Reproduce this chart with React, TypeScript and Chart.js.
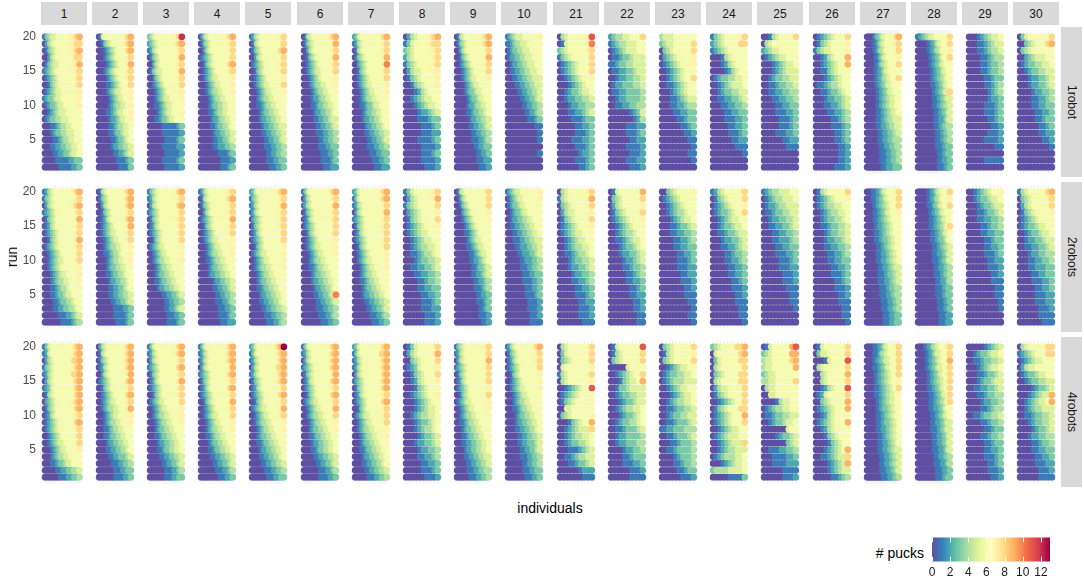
import React, { useEffect, useRef } from "react";
import { Chart, registerables } from "chart.js";
Chart.register(...registerables);

const panelLabels = ["1", "2", "3", "4", "5", "6", "7", "8", "9", "10", "21", "22", "23", "24", "25", "26", "27", "28", "29", "30"];
const conditionLabels = ["1robot", "2robots", "4robots"];
const runTicks = [5, 10, 15, 20];
const puckTicks = [0, 2, 4, 6, 8, 10, 12];
const puckLimits = [0, 13];
const spectral = ["#5E4FA2", "#3288BD", "#66C2A5", "#ABDDA4", "#E6F598", "#FFFFBF", "#FEE08B", "#FDAE61", "#F46D43", "#D53E4F", "#9E0142"];

// Each panel string: 20 runs, listed from run 20 (top) down to run 1 (bottom).
// Each run lists the sorted puck counts of its individuals (0-9, a=10, b=11, c=12, d=13).
const oneRobot: string[] = [
  "13455666667789 02456666667788 01345666667789 00245666666788 01345566666779 12345666666778 01234566666678 00134566666678 01234556666677 12334556666667 01233455666667 00123455566666 01233445556666 00011234455666 00012334455566 00001123445566 00011223344556 00001122334556 00000111112233 00000011111223",
  "01566666666789 00134566666789 00012345666689 00012345666678 00001234566679 00012345666678 00001234566678 00001123456668 00001234556667 00000123455667 00000123445567 00001123455667 00000122345567 00000112344556 00000112334556 00000011233456 00000012233445 00000001122345 00000000111123 00000000011113",
  "3456666666678c 23456666666789 12456666666678 01345666666679 00245666666678 01345566666679 00134566666678 00123456666668 00012345666667 00012345566667 00011234556666 00001234556667 00011233455666 00000011111123 00000011111112 00000001111123 00000011111122 00000001111112 00000011111123 00000001111112",
  "02456666666789 01345666666678 00245666666678 01234566666678 00134566666689 00123456666678 00123455666667 00012345566667 00012344556667 00001234455666 00001233445566 00001123445566 00000122344556 00000112334456 00000012233445 00000011223345 00000011222334 00000000111123 00000000011112 00000000011123",
  "12456666666678 01456666666678 01345666666689 00245666666668 01234566666678 00134566666668 00123456666667 00123455666668 00012345566667 00012344556666 00011234455666 00001233445566 00001223344556 00000122334455 00000112233445 00000011223345 00000011122334 00000001122334 00000001112233 00000000111223",
  "01456666666789 01345666666679 00245666666678 00134566666679 00123456666678 00123455666668 00012345666667 00012344556667 00001234455666 00001223445566 00001123344556 00000122334456 00000112233455 00000011223345 00000011122334 00000001122334 00000001112233 00000000111223 00000000111123 00000000011122",
  "23566666666789 12456666666678 01456666666678 01345666666669 0023456666667a 00134566666678 00123456666668 00123455666667 00012345566667 00012344556666 00011233455666 00001233445566 00001223344566 00000122334456 00000112233445 00000011223345 00000011122334 00000001112233 00000000111223 00000000011122",
  "0245666789 1356666788 3456666678 2456666678 1345666678 0245566677 0134566667 0013456667 0001245666 0012345566 0001234556 0000122345 0000111233 0000011123 0000011122 0000111123 0000011112 0000011123 0000011112 0000001112",
  "01456666666789 01345666666789 00245666666678 00134566666679 00123456666678 00012345666668 00012345566667 00001234556666 00001233455666 00000123345566 00000122344556 00000112334456 00000012233445 00000011223345 00000001122334 00000001112234 00000000112233 00000000011223 00000000011122 00000000001112",
  "12345556666667 11234455566666 01233445556666 01223344555666 00122334455566 00112233445556 00011223344555 00001122334455 00000112233445 00000011223345 00000001122334 00000000112234 00000000011123 00000000000011 00000000000001 00000000000001 00000000000000 00000000000001 00000000000000 00000000000000",
  "045666667b 015666667a 3456666678 1345666668 0123456668 0123456668 0012345667 0001234566 0012334556 0012233445 0001223344 0001122345 0000111233 0000011223 0000011123 0000111223 0000011123 0000001223 0000011123 0000001123",
  "2344556668 1234455566 0123455566 0112334555 1123344555 0112233455 0012233445 0122333445 0112233334 0012233334 0011223344 0000001235 0000000124 0000011122 0000011123 0000001122 0000011112 0000001112 0000011122 0000001112",
  "4555666666 3455666668 0345666668 0234566667 0123456667 0012345666 0012345668 0011234566 0001234566 0001123455 0001122344 0000112233 0000011233 0000001123 0000000112 0000000011 0000000001 0000000011 0000000001 0000000000",
  "1345666678 2345666688 1234566666 0001456666 0001245666 0000124566 0123344556 0012345556 0012334455 0011223345 0001122334 0000112233 0000111223 0000011223 0000011123 0000001122 0000000111 0000000001 0000000000 0000000000",
  "0014566668 0456666666 2345566666 0123455666 0001234556 0001234555 0012334455 0011233445 0011223344 0001122334 0000112233 0000111223 0000011123 0000011123 0000111223 0000001122 0000000111 0000000000 0000000000 0000000000",
  "0123456668 0134566667 1345566667 0012456669 0012345669 0011345666 0001234566 0112344566 0011233456 0001223345 0001122345 0000112234 0000011234 0000011123 0000001123 0000001123 0000000112 0000000112 0000000112 0000001112",
  "00000123345566666789 00000112345566666678 00000112344566666668 00000011234556666667 00000011234455666668 00000011223455666666 00000011223445566668 00000011223345556666 00000001122334555666 00000001122334455566 00000001122334455566 00000001112233445556 00000001112233444555 00000001112223344455 00000000111222333445 00000000111222333444 00000000011122233344 00000000011112223334 00000000011112223334 00000000001112222333",
  "11223344555666666668 00000001122345566668 00000001122344566667 00000000112233456668 00000000112233455666 00000000011223345566 00000000011223344566 00000000011122334556 00000000001122334558 00000000001112233455 00000000001112233445 00000000000111223345 00000000000111222345 00000000000111223344 00000000000011122334 00000000000011122334 00000000000011112233 00000000000001112233 00000000000001112223 00000000000001111223",
  "0001234556 0001123455 0001123445 0000112344 0000112334 0000112334 0000011233 0000011234 0000001234 0000001223 0000011123 0000011123 0000001123 0000000112 0000001112 0000011112 0000000011 0000000000 0000011111 0000000000",
  "0356666668 0034566689 0345666666 0023455566 0123344556 0012334455 0001223345 0001223345 0000122334 0000112234 0000112233 0000011223 0000011233 0000001123 0000001122 0000000112 0000000001 0000000000 0000000000 0000000000",
];

const twoRobots: string[] = [
  "12456666666789 13456666666678 02456666666789 12345666666678 01345666666679 01245666666678 01234566666678 00134566666679 01234566666678 00123456666668 00123455666678 00123456666667 00012345566667 00012344556667 00011234456666 00011233455666 00001123344566 00001122334456 00000011122345 00000001111234",
  "01456666666789 01345666666789 00245666666689 00134566666678 00124566666689 00123456666679 00123455666678 00012345566678 00012344556667 00011234456667 00001234455667 00001233445566 00001123344566 00000122334456 00000112233456 00000112233445 00000011223345 00000001111223 00000001111123 00000000111123",
  "13456666666789 12456666666678 02456666666689 12345666666678 01345666666678 01245666666678 01234566666678 00134566666668 01234556666667 00123455666667 00123445566667 00012344556666 00012334455666 00011233445566 00001223344556 00000011223345 00000001122334 00000001122345 00000000111223 00000000111123",
  "12456666666778 01456666666789 01345666666678 00245666666678 01234566666679 00134566666678 00123456666668 00123455666667 00012345566667 00012344556667 00011234455666 00001233445566 00001223344556 00000012233445 00000011223345 00000001122334 00000001112234 00000000111223 00000000111123 00000000011122",
  "23566666666789 13456666666678 12456666666679 12456666666678 02345666666678 01345666666678 01245666666668 01234566666678 00134566666667 01234556666667 00123455666667 00123445566667 00012344556666 00012334455666 00011233445566 00001223344556 00001122334456 00000112233445 00000011122334 00000001112234",
  "13566666666789 02456666666678 12456666666679 01345666666678 01245666666678 01234566666668 00134566666678 00123456666667 00123455666667 00012345566667 00012344556666 00011234455666 00001233445566 00001223344556 00000122334456 0000011223345a 00000011223345 00000011122334 00000001112234 00000000111223",
  "23566666666789 13566666666789 12456666666678 02456666666679 12345666666678 01345666666678 01245666666678 01234566666668 00134566666678 00123456666667 00123455666667 00012345566667 00012344556666 00011234455666 00001233445566 00001223344556 00000112233445 00000011223345 00000001112234 00000000111223",
  "1356666678 0245666679 1345666668 0234566667 0134566668 0123456667 0123455666 0012345566 0012344556 0011234456 0001233445 0011223345 0001122334 0000112334 0000112233 0000011223 0000011123 0000011122 0000001112 0000001112",
  "01456666666678 00245666666678 00134566666668 00023456666667 00012345666667 00001234566666 00001123456666 00000123455666 00000112345566 00000011234556 00000011223456 00000001123345 00000001122345 00000000112234 00000000111234 00000000011223 00000000011123 00000000001123 00000000001112 00000000000112",
  "12345566666667 01234556666667 01233455666666 00123345566666 00122334455666 00112233445566 00011223344556 00011122334455 00001122233445 00000112223345 00000011222334 00000011122334 00000001112233 00000001111223 00000000111223 00000000111123 00000000011112 00000000011112 00000000001112 00000000001111",
  "0456666678 1456666679 0345666668 0245566667 0134566668 0123456667 0123455666 0012345566 0012344556 0011234456 0001233445 0001223345 0000122334 0000112234 0000011223 0000011123 0000001122 0000001112 0000001112 0000000111",
  "0156666669 0345666668 0245666667 0134566668 0123456667 0012345666 0012344566 0011234556 0001233456 0001223345 0000122345 0000112334 0000011234 0000011223 0000001123 0000001122 0000000112 0000000112 0000000011 0000000011",
  "0034566667 0123456666 0012345666 0012344566 0001234556 0001123345 0001122334 0000112234 0000112233 0000011223 0000011123 0000011122 0000001122 0000001112 0000000112 0000000111 0000000011 0000000001 0000000011 0000000001",
  "1245666678 0134566668 0123456667 0123345668 0012345566 0012334556 0011233455 0001223345 0001122345 0000112334 0000112234 0000011223 0000011223 0000001123 0000001112 0000000112 0000000111 0000000011 0000000011 0000000001",
  "1234455566 0123445556 0122344555 0112334455 0012233445 0011223345 0001122334 0001122234 0000112233 0000111223 0000011123 0000011122 0000001112 0000001112 0000000111 0000000011 0000000011 0000000001 0000000000 0000000000",
  "0145666668 0123456667 0123445566 0012344556 0012334456 0011233445 0001233445 0001223345 0001122334 0000112234 0000112233 0000011223 0000011123 0000001123 0000001112 0000000112 0000000111 0000000011 0000000011 0000000001",
  "00001112234556666678 00001112233455666668 00000112233445566668 00000111223345566667 00000111223344556666 00000011222334455666 00000011122334455666 00000011122333445566 00000001112233445566 00000001112223344556 00000001112223344556 00000000111222334455 00000000111122333445 00000000111122233445 00000000011112233344 00000000011112223344 00000000001111222334 00000000001111222334 00000000000111122233 00000000000111122233",
  "00000001122345566668 00000001122344566667 00000001112334556668 00000000112233455666 00000000111223345566 00000000111223344568 00000000011122334556 00000000011122333456 00000000001112233445 00000000001112223345 00000000001111223345 00000000000111222334 00000000000111122334 00000000000011122234 00000000000011112233 00000000000011112233 00000000000001111223 00000000000001111223 00000000000000111122 00000000000000111122",
  "0012345667 0012334556 0001233455 0001123345 0001122334 0000112334 0000112233 0000011233 0000011223 0000011123 0000001122 0000001112 0000000112 0000000111 0000000011 0000000011 0000000001 0000000001 0000000000 0000000000",
  "1456666689 0345666678 0245666668 0134566667 0123456666 0123345566 0012334556 0012233455 0011223345 0001223344 0001122334 0001122233 0000112233 0000111223 0000011223 0000011122 0000011122 0000001112 0000001111 0000000111",
];

const fourRobots: string[] = [
  "13566666666789 12566666666789 02456666666889 13456666666789 12456666666889 02456666666789 12356666666789 01456666666689 02345666666789 01345666666689 01245666666678 01234566666689 01234566666678 00123456666678 00123455666668 00012345566667 00012344556666 00011233455666 00000112233445 00000011122334",
  "02456666666789 01456666666789 01345666666789 01245666666689 00245666666679 01234566666689 00134566666678 00123456666689 00123455666678 00123445566679 00012345566667 00012344556667 00011234455666 00011233445566 00001223344556 00001122334456 00000112233345 00000011122334 00000001112233 00000001111223",
  "13566666666789 12456666666789 02456666666678 12345666666689 01345666666678 01245666666679 01234566666678 00134566666678 01234556666668 00123455666667 00123445566667 00012344556667 00012334455666 00011233445566 00001223344556 00001123344556 00000112233445 00000011223345 00000001112234 00000001112233",
  "13566666666789 12456666666789 12456666666789 02456666666679 12345666666789 01345666666678 01245666666689 01234566666678 00134566666679 00123456666678 00123455666668 00012345566667 00012344556667 00011234455666 00001233445566 00001123344556 00000112233445 00000011223345 00000001112234 00000000111223",
  "2356666666789d 13566666666789 12456666666789 02456666666889 12456666666789 01345666666789 01245666666678 01234566666689 00134566666678 01234556666679 00123455666678 00123445566667 00012344556667 00012334455666 00011233445566 00001223344556 00001122334456 00000112233445 00000011122334 00000001112233",
  "13566666666789 12456666666789 02456666666689 12345666666789 01345666666679 01245666666689 01234566666678 00134566666689 01234556666678 00123455666679 00123445566668 00012344556667 00012334455667 00011233445566 00001223344556 00001123344556 00000112233445 00000011223345 00000001112234 00000001111223",
  "23566666666789 13566666666889 12456666666789 12456666666789 02456666666689 12345666666789 01345666666689 01245666666678 01234566666689 00134566666678 01234556666678 00123455666668 00123445566667 00012344556667 00012334455666 00011233445566 00001223344556 00001122334456 00000112233445 00000011122334",
  "0135666678 0245666679 0034566668 0123566667 0013456668 0012456667 0001345666 0012345667 0001234566 0001234556 0012344556 0001233456 0001234456 0000123345 0001223345 0000122334 0000112234 0000011223 0000011123 0000001112",
  "13456666666678 12456666666678 02456666666679 12345666666678 01345666666668 01245666666678 01234566666667 00134566666668 01234556666667 00123455666667 00123445566666 00112344556666 00012334455666 00011233445566 00011223344556 00001223344556 00001122334455 00000112233445 00000111223344 00000011122334",
  "12456666666789 01345666666678 01245666666678 01234566666668 00134566666667 00123456666667 00123455666667 00012345566666 00012344556666 00011234455666 00001233445566 00001223344556 00001122334456 00000112233445 00000112233345 00000011223345 00000011122334 00000001122334 00000001112233 00000000111223",
  "0456666668 0356666668 0345666668 0566666667 1456666668 0456666667 001234566b 0123456666 0134566666 0055666666 0345666667 0001345669 0012345558 0012344556 0012334456 0001112345 0011234455 0001123345 0000001222 0000000111",
  "015666666b 0145666668 0345666668 0000056666 0012345668 0001345569 0013345555 0012334455 0001233455 0012344556 0001233456 0012334456 0011233345 0012233334 0012233344 0000122334 0000112333 0000111223 0000001112 0000001111",
  "0345666668 0145666667 0345666668 0012345566 0123344556 0123444555 0012345566 0001234556 0012344556 0011233445 0012334455 0011233345 1122333444 0011233345 0001123334 0011233334 0000123334 0000112334 0000011233 0000001112",
  "3456666889 0566666689 0356666688 0456666668 0345666688 0456666688 0245566668 0134566668 0012345668 0134566688 0123456669 0123456668 0012345566 0123455566 0012345558 0012344555 0123444556 0001234556 3444455556 0000011113",
  "015666669b 3456666699 4556666689 4556666669 3455666666 4455666668 0455666666 0055666666 0000145566 0123445566 0112334455 0012334556 0000000566 0000123345 0000000345 0011122334 0001111223 0001111222 0000001111 0000001112",
  "0156666668 0355666668 000156666b 0456666668 0045666669 0045666668 001245666b 0125666668 0034566669 0123456669 0012456666 0123456669 0012456666 0001345666 0000134566 0001234569 0011234558 0000123459 0000123455 0000011234",
  "00000111223455666678 00000111234455666668 00000112233455566668 00000111223345566668 00000011223344556668 00000011223344556667 00000011122334455668 00000011122334455566 00000001122334455566 00000001122333445566 00000001112233445566 00000001112233344556 00000001112223344556 00000000111223344556 00000000111222334456 00000000111222334455 00000000011122233445 00000000011122233445 00000000011112223345 00000000001111222334",
  "00000112234455666678 00000011223455566668 00000011223345566669 00000011223345556668 00000001122334556668 00000001122334455668 00000001112233455668 00000000111223345568 00000000111223344568 00000000111222334566 00000000011122334556 00000000011122233455 00000000011112233455 00000000001112223345 00000000001112223345 00000000001111222345 00000000000111222334 00000000000111122234 00000000000011112223 00000000000011112233",
  "0000012345 0012334556 0011233445 0001234556 0001123345 0001233455 0011223345 0001123344 0000122334 0000112344 0011233445 0000112334 0000011233 0000112334 0000011233 0000011223 0000011123 0000001123 0000001112 0000000112",
  "0456666688 1234566688 0123455666 0245566666 0123345566 0012334455 0000123345 0001234559 0012345569 0012344555 0011233445 0001233445 0000123345 0001223344 0000112334 0000112233 0000011223 0000011122 0000001112 0000001111",
];

const conditionPanels: string[][] = [oneRobot, twoRobots, fourRobots];

const FONT = "'Liberation Sans', Arial, Helvetica, sans-serif";
const COL_X0 = 40.5;
const COL_STEP = 51.2;
const PANEL_W = 46;
const ROW_Y0 = 27;
const ROW_STEP = 155;
const PANEL_H = 150;
const AXIS_W = 30;
const Y_MIN = 0.05;
const Y_MAX = 20.95;
const POINT_R = 3.35;

function hexToRgb(h: string): number[] {
  const n = parseInt(h.slice(1), 16);
  return [(n >> 16) & 255, (n >> 8) & 255, n & 255];
}
const spectralRgb = spectral.map(hexToRgb);

function puckColor(v: number): string {
  const t = Math.max(0, Math.min(1, (v - puckLimits[0]) / (puckLimits[1] - puckLimits[0]))) * (spectralRgb.length - 1);
  const i = Math.min(Math.floor(t), spectralRgb.length - 2);
  const f = t - i;
  const a = spectralRgb[i];
  const b = spectralRgb[i + 1];
  const c = a.map((x, k) => Math.round(x + (b[k] - x) * f));
  return `rgb(${c[0]},${c[1]},${c[2]})`;
}

function parsePanel(spec: string) {
  const tokens = spec.trim().split(/\s+/);
  return tokens.map((tok, idx) => ({
    run: tokens.length - idx,
    vals: tok.split("").map((ch) => parseInt(ch, 36)),
  }));
}

function Panel({ left, top, spec, showY }: { left: number; top: number; spec: string; showY: boolean }) {
  const ref = useRef<HTMLCanvasElement>(null);
  const cw = PANEL_W + (showY ? AXIS_W : 0);
  useEffect(() => {
    const runs = parsePanel(spec);
    const n = Math.max(...runs.map((r) => r.vals.length));
    const pts: { x: number; y: number }[] = [];
    const cols: string[] = [];
    runs
      .slice()
      .reverse()
      .forEach((r) =>
        r.vals.forEach((v, k) => {
          pts.push({ x: k + 1, y: r.run });
          cols.push(puckColor(v));
        })
      );
    const padPx = 4.4;
    const unit = (PANEL_W - 2 * padPx) / (n - 1);
    const padU = padPx / unit;
    const gridPlugin = {
      id: "xgrid",
      beforeDatasetsDraw(chart: any) {
        const { ctx, chartArea, scales } = chart;
        ctx.save();
        ctx.strokeStyle = "#E3E3E3";
        ctx.lineWidth = 0.6;
        for (let k = 1; k <= n; k++) {
          const px = scales.x.getPixelForValue(k);
          ctx.beginPath();
          ctx.moveTo(px, chartArea.top);
          ctx.lineTo(px, chartArea.bottom);
          ctx.stroke();
        }
        ctx.restore();
      },
    };
    const yScale: any = {
      type: "linear",
      min: Y_MIN,
      max: Y_MAX,
      display: showY,
      position: "left",
      afterBuildTicks: (a: any) => {
        a.ticks = runTicks.map((v) => ({ value: v }));
      },
      ticks: { color: "#4D4D4D", font: { family: FONT, size: 12 }, padding: 5 },
      grid: { display: false, drawTicks: false },
      border: { display: false },
    };
    if (showY) {
      yScale.afterFit = (a: any) => {
        a.width = AXIS_W;
        a.paddingTop = 0;
        a.paddingBottom = 0;
      };
    }
    const chart = new Chart(ref.current as HTMLCanvasElement, {
      type: "scatter",
      data: {
        datasets: [
          {
            data: pts,
            pointBackgroundColor: cols,
            pointBorderWidth: 0,
            pointRadius: POINT_R,
            pointHoverRadius: POINT_R,
          } as any,
        ],
      },
      options: {
        animation: false,
        responsive: false,
        events: [],
        layout: { padding: 0 },
        plugins: { legend: { display: false }, tooltip: { enabled: false } },
        scales: {
          x: { type: "linear", min: 1 - padU, max: n + padU, display: false },
          y: yScale,
        },
      } as any,
      plugins: [gridPlugin],
    });
    return () => chart.destroy();
  }, [spec, showY]);
  return (
    <canvas
      ref={ref}
      width={cw}
      height={PANEL_H}
      style={{ position: "absolute", left: left - (showY ? AXIS_W : 0), top, width: cw, height: PANEL_H }}
    />
  );
}

function ColorBar() {
  const ref = useRef<HTMLCanvasElement>(null);
  useEffect(() => {
    const barPlugin = {
      id: "bar",
      beforeDraw(chart: any) {
        const { ctx, chartArea, scales } = chart;
        const x0 = scales.x.getPixelForValue(puckLimits[0]);
        const x1 = scales.x.getPixelForValue(puckLimits[1]);
        const g = ctx.createLinearGradient(x0, 0, x1, 0);
        spectral.forEach((c, i) => g.addColorStop(i / (spectral.length - 1), c));
        ctx.save();
        ctx.fillStyle = g;
        ctx.fillRect(x0, chartArea.top, x1 - x0, chartArea.bottom - chartArea.top);
        ctx.strokeStyle = "#FFFFFF";
        ctx.lineWidth = 1;
        const h = (chartArea.bottom - chartArea.top) / 5;
        puckTicks.forEach((v) => {
          const px = Math.round(scales.x.getPixelForValue(v)) + 0.5;
          ctx.beginPath();
          ctx.moveTo(px, chartArea.top);
          ctx.lineTo(px, chartArea.top + h);
          ctx.moveTo(px, chartArea.bottom - h);
          ctx.lineTo(px, chartArea.bottom);
          ctx.stroke();
        });
        ctx.restore();
      },
    };
    const chart = new Chart(ref.current as HTMLCanvasElement, {
      type: "scatter",
      data: { datasets: [] },
      options: {
        animation: false,
        responsive: false,
        events: [],
        layout: { padding: { left: 14, right: 10, top: 3.5, bottom: 0 } },
        plugins: { legend: { display: false }, tooltip: { enabled: false } },
        scales: {
          x: {
            type: "linear",
            min: puckLimits[0],
            max: puckLimits[1],
            position: "bottom",
            afterFit: (a: any) => {
              a.height = 20.5;
            },
            afterBuildTicks: (a: any) => {
              a.ticks = puckTicks.map((v) => ({ value: v }));
            },
            ticks: { color: "#1A1A1A", font: { family: FONT, size: 12 }, padding: 4, maxRotation: 0, autoSkip: false },
            grid: { display: false, drawTicks: false },
            border: { display: false },
          },
          y: { display: false, min: 0, max: 1 },
        },
      } as any,
      plugins: [barPlugin],
    });
    return () => chart.destroy();
  }, []);
  return <canvas ref={ref} width={142} height={48} style={{ position: "absolute", left: 918, top: 534, width: 142, height: 48 }} />;
}

export default function App() {
  const stripText: React.CSSProperties = {
    position: "absolute",
    background: "#D9D9D9",
    color: "#1A1A1A",
    fontFamily: FONT,
    fontSize: 12,
    display: "flex",
    alignItems: "center",
    justifyContent: "center",
  };
  const colLeft = (i: number) => Math.round(COL_X0 + i * COL_STEP);
  return (
    <div style={{ position: "fixed", left: 0, top: 0, width: 1084, height: 583, background: "#FFFFFF", overflow: "hidden" }}>
      {panelLabels.map((lab, i) => (
        <div key={"ts" + lab} style={{ ...stripText, left: colLeft(i), top: 2, width: PANEL_W, height: 23 }}>
          {lab}
        </div>
      ))}
      {conditionLabels.map((lab, r) => (
        <div
          key={"rs" + lab}
          style={{ ...stripText, left: 1061, top: ROW_Y0 + r * ROW_STEP, width: 21, height: PANEL_H, writingMode: "vertical-rl" as any }}
        >
          {lab}
        </div>
      ))}
      {conditionPanels.map((row, r) =>
        row.map((spec, i) => (
          <Panel key={r + "-" + i} left={colLeft(i)} top={ROW_Y0 + r * ROW_STEP} spec={spec} showY={i === 0} />
        ))
      )}
      <div
        style={{
          position: "absolute",
          left: 12,
          top: (ROW_Y0 + ROW_Y0 + 2 * ROW_STEP + PANEL_H) / 2,
          transform: "translate(-50%, -50%) rotate(-90deg)",
          fontFamily: FONT,
          fontSize: 14,
          color: "#000",
          whiteSpace: "nowrap",
        }}
      >
        run
      </div>
      <div
        style={{
          position: "absolute",
          left: (colLeft(0) + colLeft(19) + PANEL_W) / 2,
          top: 508,
          transform: "translate(-50%, -50%)",
          fontFamily: FONT,
          fontSize: 14,
          color: "#000",
          whiteSpace: "nowrap",
        }}
      >
        individuals
      </div>
      <div
        style={{
          position: "absolute",
          right: 1084 - 924,
          top: 553,
          transform: "translateY(-50%)",
          fontFamily: FONT,
          fontSize: 14,
          color: "#000",
          whiteSpace: "nowrap",
        }}
      >
        # pucks
      </div>
      <ColorBar />
    </div>
  );
}
